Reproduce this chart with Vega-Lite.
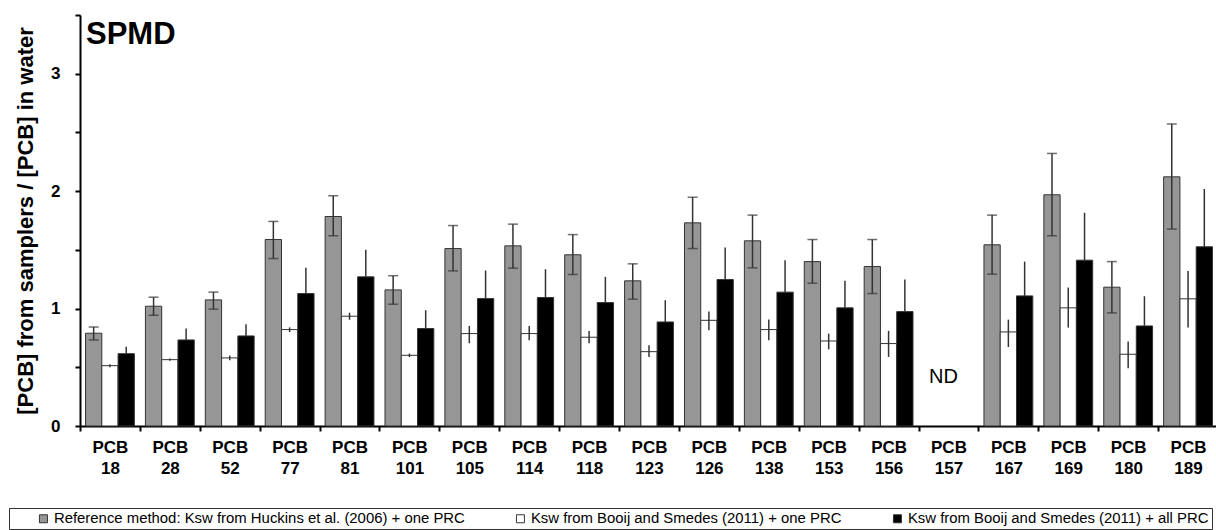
{
  "$schema": "https://vega.github.io/schema/vega-lite/v6.json",
  "width": 1138,
  "height": 411,
  "autosize": {"type": "pad"},
  "padding": {"left": 8, "top": 14, "right": 0, "bottom": 0},
  "background": "white",
  "title": {
    "text": "SPMD",
    "anchor": "start",
    "frame": "group",
    "orient": "top",
    "offset": -37,
    "dx": 6,
    "fontSize": 31,
    "fontWeight": "bold",
    "color": "black",
    "font": "Liberation Sans"
  },
  "datasets": {
    "bars": [
      {"pcb": "18", "method": "ref", "value": 0.79, "lo": 0.733, "hi": 0.843},
      {"pcb": "18", "method": "one", "value": 0.514, "lo": 0.5, "hi": 0.525},
      {"pcb": "18", "method": "all", "value": 0.616, "hi": 0.675},
      {"pcb": "28", "method": "ref", "value": 1.02, "lo": 0.943, "hi": 1.097},
      {"pcb": "28", "method": "one", "value": 0.565, "lo": 0.555, "hi": 0.575},
      {"pcb": "28", "method": "all", "value": 0.733, "hi": 0.83},
      {"pcb": "52", "method": "ref", "value": 1.074, "lo": 0.995, "hi": 1.14},
      {"pcb": "52", "method": "one", "value": 0.58, "lo": 0.56, "hi": 0.6},
      {"pcb": "52", "method": "all", "value": 0.767, "hi": 0.867},
      {"pcb": "77", "method": "ref", "value": 1.588, "lo": 1.426, "hi": 1.742},
      {"pcb": "77", "method": "one", "value": 0.821, "lo": 0.8, "hi": 0.84},
      {"pcb": "77", "method": "all", "value": 1.128, "hi": 1.347},
      {"pcb": "81", "method": "ref", "value": 1.784, "lo": 1.62, "hi": 1.96},
      {"pcb": "81", "method": "one", "value": 0.935, "lo": 0.905, "hi": 0.965},
      {"pcb": "81", "method": "all", "value": 1.27, "hi": 1.5},
      {"pcb": "101", "method": "ref", "value": 1.159, "lo": 1.037, "hi": 1.28},
      {"pcb": "101", "method": "one", "value": 0.602, "lo": 0.587, "hi": 0.617},
      {"pcb": "101", "method": "all", "value": 0.83, "hi": 0.986},
      {"pcb": "105", "method": "ref", "value": 1.511, "lo": 1.321, "hi": 1.707},
      {"pcb": "105", "method": "one", "value": 0.787, "lo": 0.705, "hi": 0.852},
      {"pcb": "105", "method": "all", "value": 1.085, "hi": 1.324},
      {"pcb": "114", "method": "ref", "value": 1.534, "lo": 1.344, "hi": 1.719},
      {"pcb": "114", "method": "one", "value": 0.787, "lo": 0.73, "hi": 0.852},
      {"pcb": "114", "method": "all", "value": 1.094, "hi": 1.335},
      {"pcb": "118", "method": "ref", "value": 1.458, "lo": 1.29, "hi": 1.63},
      {"pcb": "118", "method": "one", "value": 0.756, "lo": 0.705, "hi": 0.81},
      {"pcb": "118", "method": "all", "value": 1.051, "hi": 1.27},
      {"pcb": "123", "method": "ref", "value": 1.236, "lo": 1.08, "hi": 1.381},
      {"pcb": "123", "method": "one", "value": 0.633, "lo": 0.588, "hi": 0.688},
      {"pcb": "123", "method": "all", "value": 0.886, "hi": 1.071},
      {"pcb": "126", "method": "ref", "value": 1.73, "lo": 1.511, "hi": 1.948},
      {"pcb": "126", "method": "one", "value": 0.9, "lo": 0.816, "hi": 0.974},
      {"pcb": "126", "method": "all", "value": 1.247, "hi": 1.52},
      {"pcb": "138", "method": "ref", "value": 1.577, "lo": 1.347, "hi": 1.796},
      {"pcb": "138", "method": "one", "value": 0.821, "lo": 0.73, "hi": 0.906},
      {"pcb": "138", "method": "all", "value": 1.14, "hi": 1.412},
      {"pcb": "153", "method": "ref", "value": 1.4, "lo": 1.216, "hi": 1.588},
      {"pcb": "153", "method": "one", "value": 0.724, "lo": 0.653, "hi": 0.787},
      {"pcb": "153", "method": "all", "value": 1.006, "hi": 1.236},
      {"pcb": "156", "method": "ref", "value": 1.358, "lo": 1.128, "hi": 1.588},
      {"pcb": "156", "method": "one", "value": 0.702, "lo": 0.588, "hi": 0.81},
      {"pcb": "156", "method": "all", "value": 0.974, "hi": 1.247},
      {"pcb": "167", "method": "ref", "value": 1.543, "lo": 1.293, "hi": 1.796},
      {"pcb": "167", "method": "one", "value": 0.801, "lo": 0.673, "hi": 0.906},
      {"pcb": "167", "method": "all", "value": 1.108, "hi": 1.4},
      {"pcb": "169", "method": "ref", "value": 1.969, "lo": 1.62, "hi": 2.321},
      {"pcb": "169", "method": "one", "value": 1.006, "lo": 0.838, "hi": 1.179},
      {"pcb": "169", "method": "all", "value": 1.412, "hi": 1.816},
      {"pcb": "180", "method": "ref", "value": 1.182, "lo": 0.963, "hi": 1.4},
      {"pcb": "180", "method": "one", "value": 0.611, "lo": 0.492, "hi": 0.719},
      {"pcb": "180", "method": "all", "value": 0.852, "hi": 1.105},
      {"pcb": "189", "method": "ref", "value": 2.122, "lo": 1.677, "hi": 2.572},
      {"pcb": "189", "method": "one", "value": 1.083, "lo": 0.838, "hi": 1.321},
      {"pcb": "189", "method": "all", "value": 1.526, "hi": 2.018}
    ],
    "notes": [
      {"pcb": "157", "note": "ND", "value": 0.42}
    ]
  },
  "encoding": {
    "x": {
      "field": "pcb",
      "type": "nominal",
      "scale": {
        "domain": ["18", "28", "52", "77", "81", "101", "105", "114", "118", "123", "126", "138", "153", "156", "157", "167", "169", "180", "189"],
        "paddingInner": 0,
        "paddingOuter": 0
      },
      "axis": {
        "title": null,
        "labelExpr": "isValid(datum.value) ? ['PCB', datum.value] : ''",
        "labelAngle": 0,
        "labelFontSize": 17,
        "labelFontWeight": "bold",
        "labelLineHeight": 21,
        "labelPadding": 8,
        "labelColor": "black",
        "tickBand": "extent",
        "tickSize": 5,
        "tickWidth": 2,
        "tickColor": "black",
        "domainColor": "black",
        "domainWidth": 2
      }
    }
  },
  "layer": [
    {
      "data": {"name": "bars"},
      "mark": {"type": "bar", "stroke": "#333333", "strokeWidth": 1},
      "encoding": {
        "xOffset": {
          "field": "method",
          "type": "nominal",
          "scale": {"domain": ["ref", "one", "all"], "paddingInner": 0, "paddingOuter": 0.34}
        },
        "y": {
          "field": "value",
          "type": "quantitative",
          "scale": {"domain": [0, 3.5], "nice": false},
          "axis": {
            "title": "[PCB] from samplers / [PCB] in water",
            "titleFontSize": 22,
            "titleFontWeight": "bold",
            "titleColor": "black",
            "titlePadding": 13,
            "values": [0, 0.5, 1, 1.5, 2, 2.5, 3, 3.5],
            "labelExpr": "datum.value % 1 == 0 && datum.value < 3.5 ? '' + datum.value : ''",
            "labelFontSize": 17,
            "labelFontWeight": "bold",
            "labelColor": "black",
            "labelPadding": 15,
            "grid": false,
            "tickSize": 5,
            "tickWidth": 2,
            "tickColor": "black",
            "domainColor": "black",
            "domainWidth": 2
          }
        },
        "color": {
          "field": "method",
          "type": "nominal",
          "scale": {"domain": ["ref", "one", "all"], "range": ["#969696", "#ffffff", "#000000"]},
          "legend": {
            "orient": "none",
            "legendX": -71,
            "legendY": 493,
            "direction": "horizontal",
            "title": "\u00a0",
            "titleOrient": "left",
            "titlePadding": 24,
            "titleFontSize": 13,
            "labelExpr": "datum.value == 'ref' ? 'Reference method: Ksw from Huckins et al. (2006) + one PRC' : datum.value == 'one' ? 'Ksw from Booij and Smedes (2011) + one PRC' : 'Ksw from Booij and Smedes (2011) + all PRC'",
            "labelFontSize": 14.9,
            "labelColor": "black",
            "labelLimit": 600,
            "labelOffset": 3,
            "columnPadding": 48,
            "symbolType": "square",
            "symbolSize": 64,
            "symbolStrokeColor": "#333333",
            "symbolStrokeWidth": 1,
            "strokeColor": "#333333",
            "padding": 3
          }
        }
      }
    },
    {
      "data": {"name": "bars"},
      "transform": [{"filter": "datum.method != 'all'"}],
      "mark": {"type": "rule", "color": "#333333", "strokeWidth": 1.5},
      "encoding": {
        "xOffset": {"field": "method", "type": "nominal"},
        "y": {"field": "lo", "type": "quantitative"},
        "y2": {"field": "hi"}
      }
    },
    {
      "data": {"name": "bars"},
      "transform": [{"filter": "datum.method == 'all'"}],
      "mark": {"type": "rule", "color": "#333333", "strokeWidth": 1.5},
      "encoding": {
        "xOffset": {"field": "method", "type": "nominal"},
        "y": {"field": "value", "type": "quantitative"},
        "y2": {"field": "hi"}
      }
    },
    {
      "data": {"name": "bars"},
      "transform": [
        {"filter": "datum.method == 'ref'"},
        {"fold": ["lo", "hi"], "as": ["bound", "cap"]}
      ],
      "mark": {"type": "tick", "color": "#333333", "size": 10, "thickness": 1.5},
      "encoding": {
        "xOffset": {"field": "method", "type": "nominal"},
        "y": {"field": "cap", "type": "quantitative"}
      }
    },
    {
      "data": {"name": "notes"},
      "mark": {"type": "text", "fontSize": 20, "color": "black", "align": "center", "baseline": "middle", "dx": -5},
      "encoding": {
        "y": {"field": "value", "type": "quantitative"},
        "text": {"field": "note"}
      }
    }
  ],
  "config": {
    "font": "Liberation Sans",
    "view": {"stroke": null}
  }
}
